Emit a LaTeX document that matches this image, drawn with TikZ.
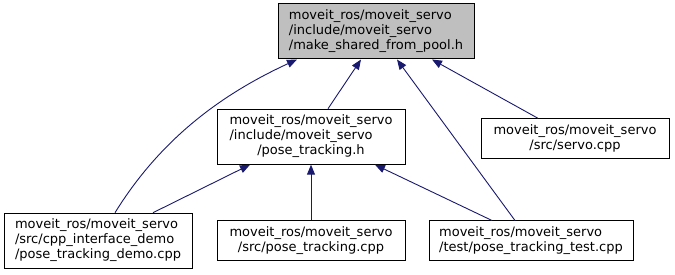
\documentclass[tikz,border=0pt]{standalone}
\usepackage{fontspec}
\setmainfont{DejaVu Sans}
\usepackage{tikz}
\usetikzlibrary{arrows.meta}

\definecolor{edgeblue}{RGB}{25,25,112}
\definecolor{headgray}{RGB}{191,191,191}

% file label: leading lines left, last line centred
\newcommand{\flines}[2]{\begin{tabular}{@{}l@{}}#1\\\multicolumn{1}{@{}c@{}}{#2}\end{tabular}}

\begin{document}
\begin{tikzpicture}[
		  x=1pt, y=-1pt,
		  every node/.style = {shape=rectangle, draw=black, line width=1pt, fill=white, inner sep=0pt, font=\fontsize{13}{15}\selectfont},
		  header/.style = {fill=headgray, minimum width=196, minimum height=55},
		  tall/.style = {minimum width=188, minimum height=55},
		  flat/.style = {minimum width=188, minimum height=40},
		  inc/.style = {draw=edgeblue, line width=0.9pt, -{Triangle[length=10pt, width=8pt]}, fill=none}
		]

		  \fill[white] (0,0) rectangle (675,275);
		  \useasboundingbox (0,0) rectangle (675,275);

		  \node[header] (pool) at (376,31.5) {\flines{moveit\_ros/moveit\_servo\\/include/moveit\_servo}{/make\_shared\_from\_pool.h}};
		  \node[tall] (track) at (311,136.7) {\flines{moveit\_ros/moveit\_servo\\/include/moveit\_servo}{/pose\_tracking.h}};
		  \node[flat] (servo) at (575,138.8) {\flines{moveit\_ros/moveit\_servo}{/src/servo.cpp}};
		  \node[tall] (demo) at (98,240.7) {\flines{moveit\_ros/moveit\_servo\\/src/cpp\_interface\_demo}{/pose\_tracking\_demo.cpp}};
		  \node[flat] (trackcpp) at (311,241) {\flines{moveit\_ros/moveit\_servo}{/src/pose\_tracking.cpp}};
		  \node[flat, minimum width=204] (test) at (531,241) {\flines{moveit\_ros/moveit\_servo}{/test/pose\_tracking\_test.cpp}};

		  % includes of make_shared_from_pool.h
		  \draw[inc] ([xshift=17]demo.north) .. controls (160,140) and (220,95) .. ([xshift=-79]pool.south);
		  \draw[inc] ([xshift=17]track.north) -- ([xshift=-15]pool.south);
		  \draw[inc] ([xshift=-16]test.north) -- ([xshift=21]pool.south);
		  \draw[inc] ([xshift=-37]servo.north) -- ([xshift=56]pool.south);

		  % includes of pose_tracking.h
		  \draw[inc] ([xshift=55]demo.north) -- ([xshift=-61]track.south);
		  \draw[inc] (trackcpp.north) -- (track.south);
		  \draw[inc] ([xshift=-39]test.north) -- ([xshift=64]track.south);
		\end{tikzpicture}
\end{document}
